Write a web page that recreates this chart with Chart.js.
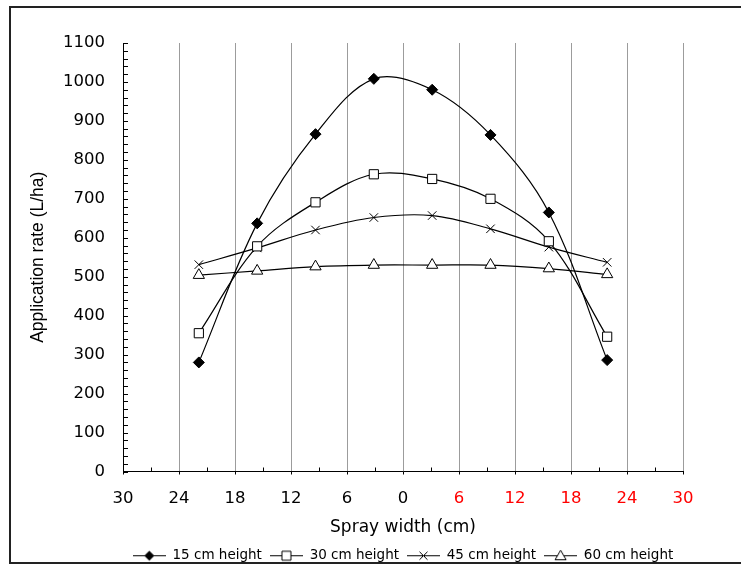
<!DOCTYPE html>
<html><head><meta charset="utf-8">
<script src="https://cdn.jsdelivr.net/npm/chart.js@4"></script>
<style>html,body{margin:0;padding:0;background:#fff}canvas{display:block}</style>
</head><body>
<canvas id="c" width="741" height="567"></canvas>
<script>
// ---- data ----
const sprayWidth = [-21.875, -15.625, -9.375, -3.125, 3.125, 9.375, 15.625, 21.875];
const rate15 = [280, 637, 866, 1008, 980, 864, 665, 286];
const rate30 = [355, 578, 691, 763, 751, 700, 591, 346];
const rate45 = [531, 574, 620, 652, 657, 623, 576, 537];
const rate60 = [504, 515, 526, 530, 530, 530, 521, 506];
const seriesNames = ['15 cm height', '30 cm height', '45 cm height', '60 cm height'];
const xTickValues = [-30, -24, -18, -12, -6, 0, 6, 12, 18, 24, 30];
const yTickValues = [0, 100, 200, 300, 400, 500, 600, 700, 800, 900, 1000, 1100];
const xTitle = 'Spray width (cm)';
const yTitle = 'Application rate (L/ha)';

// ---- styles ----
const markers = [
  {style: 'rectRot', radius: 5.5, fill: '#000'},
  {style: 'rect', radius: 6.5, fill: '#fff'},
  {style: 'crossRot', radius: 6, fill: '#fff'},
  {style: 'triangle', radius: 6.5, fill: '#fff'}
];
const seriesValues = [rate15, rate30, rate45, rate60];

function legendIcon(i) {
  const c = document.createElement('canvas');
  c.width = 33; c.height = 14;
  const g = c.getContext('2d');
  g.strokeStyle = '#000'; g.lineWidth = 1;
  g.beginPath(); g.moveTo(0, 7.5); g.lineTo(33, 7.5); g.stroke();
  const cx = 16.5, cy = 7.5;
  g.beginPath();
  if (i === 0) {
    g.moveTo(cx, cy - 5); g.lineTo(cx + 5, cy); g.lineTo(cx, cy + 5); g.lineTo(cx - 5, cy); g.closePath();
    g.fillStyle = '#000'; g.fill();
  } else if (i === 1) {
    g.rect(cx - 4.5, cy - 4.5, 9, 9); g.fillStyle = '#fff'; g.fill(); g.stroke();
  } else if (i === 2) {
    g.moveTo(cx - 4, cy - 4); g.lineTo(cx + 4, cy + 4); g.moveTo(cx + 4, cy - 4); g.lineTo(cx - 4, cy + 4); g.stroke();
  } else {
    g.moveTo(cx, cy - 5.5); g.lineTo(cx + 5.5, cy + 4); g.lineTo(cx - 5.5, cy + 4); g.closePath();
    g.fillStyle = '#fff'; g.fill(); g.stroke();
  }
  return c;
}
const legendIcons = [0, 1, 2, 3].map(legendIcon);

const datasets = seriesValues.map((vals, i) => ({
  label: seriesNames[i],
  data: sprayWidth.map((x, k) => ({x: x, y: vals[k]})),
  borderColor: '#000',
  borderWidth: 1.2,
  backgroundColor: markers[i].fill,
  pointStyle: markers[i].style,
  pointRadius: markers[i].radius,
  pointBorderColor: '#000',
  pointBackgroundColor: markers[i].fill,
  pointBorderWidth: 1,
  tension: 0.35,
  fill: false
}));

const frame = {
  id: 'frame',
  beforeDraw(chart) {
    const ctx = chart.ctx;
    ctx.save(); ctx.fillStyle = '#fff'; ctx.fillRect(0, 0, chart.width, chart.height); ctx.restore();
  },
  afterDraw(chart) {
    const ctx = chart.ctx;
    ctx.save(); ctx.strokeStyle = '#222'; ctx.lineWidth = 2;
    ctx.strokeRect(10, 7, chart.width + 20, 556);
    ctx.restore();
  }
};

const minorTicks = {
  id: 'minorTicks',
  afterDatasetsDraw(chart) {
    const {ctx, scales: {x, y}} = chart;
    ctx.save(); ctx.strokeStyle = '#000'; ctx.lineWidth = 1; ctx.beginPath();
    for (let v = 0; v <= 1100; v += 20) {
      const py = Math.round(y.getPixelForValue(v)) + 0.5;
      ctx.moveTo(x.left, py); ctx.lineTo(x.left + 5, py);
    }
    for (let v = -30; v <= 30; v += 3) {
      const px = Math.round(x.getPixelForValue(v)) + 0.5;
      if (v % 6 === 0) { ctx.moveTo(px, y.bottom); ctx.lineTo(px, y.bottom + 3); }
      else { ctx.moveTo(px, y.bottom); ctx.lineTo(px, y.bottom - 4); }
    }
    ctx.stroke(); ctx.restore();
  }
};

new Chart(document.getElementById('c'), {
  type: 'line',
  data: {datasets},
  plugins: [frame, minorTicks],
  options: {
    responsive: false,
    animation: false,
    layout: {padding: {left: 10, right: 58, top: 43, bottom: -5}},
    scales: {
      x: {
        type: 'linear', min: -30, max: 30,
        afterBuildTicks: s => { s.ticks = xTickValues.map(v => ({value: v})); },
        afterFit: s => { s.height = 69; },
        ticks: {
          autoSkip: false, maxRotation: 0, padding: 17,
          callback: v => String(Math.abs(v)),
          color: c => (c.tick && c.tick.value > 0) ? '#ff0000' : '#000',
          font: {family: 'DejaVu Sans', size: 16.5}
        },
        grid: {
          drawTicks: false, lineWidth: 1,
          color: c => (c.tick && c.tick.value === -30) ? 'rgba(0,0,0,0)' : '#9c9c9c'
        },
        border: {display: true, color: '#000', width: 1},
        title: {display: true, text: xTitle, color: '#000', font: {family: 'DejaVu Sans', size: 17}, padding: {top: 0, bottom: 3}}
      },
      y: {
        type: 'linear', min: 0, max: 1100,
        afterBuildTicks: s => { s.ticks = yTickValues.map(v => ({value: v})); },
        afterFit: s => { s.width = 113; },
        ticks: {padding: 18, color: '#000', font: {family: 'DejaVu Sans', size: 16.5}, callback: v => String(v)},
        grid: {display: false, drawTicks: false},
        border: {display: true, color: '#000', width: 1},
        title: {display: true, text: yTitle, color: '#000', font: {family: 'Liberation Sans', size: 17.5}, padding: {top: 18, bottom: 0}}
      }
    },
    plugins: {
      tooltip: {enabled: false},
      legend: {
        position: 'bottom', fullSize: false,
        labels: {
          usePointStyle: true, pointStyleWidth: 33, padding: 8, color: '#000',
          font: {family: 'DejaVu Sans', size: 13.5},
          generateLabels: chart => chart.data.datasets.map((d, i) => ({
            text: d.label, pointStyle: legendIcons[i], fillStyle: '#fff', strokeStyle: '#000',
            lineWidth: 0, hidden: false, datasetIndex: i, fontColor: '#000'
          }))
        }
      }
    }
  }
});
</script>
</body></html>
